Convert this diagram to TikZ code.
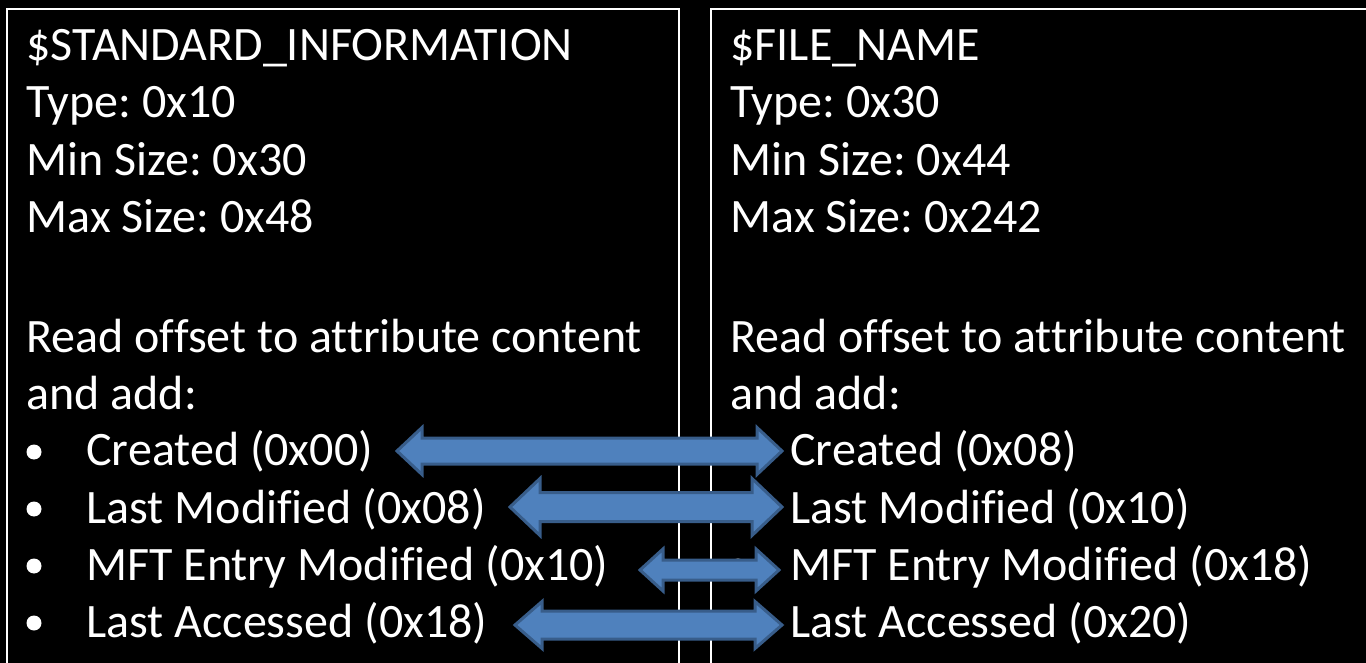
\documentclass[tikz,border=0pt]{standalone}
\usepackage{fontspec}
\setmainfont{Carlito}[Ligatures=NoCommon]
\frenchspacing
\usetikzlibrary{calc}
\definecolor{arrowfill}{HTML}{4F81BD}
\definecolor{arrowline}{HTML}{385D8A}
% double block arrow between two tips: shaft half, head half, head length
\newcommand{\dblarrow}[5]{%
	\draw[blockarrow] let \p1=(#1), \p2=(#2) in
		(\x1,\y1) -- (\x1+#5*0.5pt,\y1+#4*0.5pt) -- (\x1+#5*0.5pt,\y1+#3*0.5pt)
		-- (\x2-#5*0.5pt,\y1+#3*0.5pt) -- (\x2-#5*0.5pt,\y1+#4*0.5pt) -- (\x2,\y1)
		-- (\x2-#5*0.5pt,\y1-#4*0.5pt) -- (\x2-#5*0.5pt,\y1-#3*0.5pt)
		-- (\x1+#5*0.5pt,\y1-#3*0.5pt) -- (\x1+#5*0.5pt,\y1-#4*0.5pt) -- cycle;}

\begin{document}
\begin{tikzpicture}[x=0.5pt, y=-0.5pt]
		
		\tikzstyle{every node}=[font=\fontsize{24}{28}\selectfont, text=white, inner sep=0pt, anchor=base west]
		\tikzstyle{attrbox}=[draw=white, line width=1pt]
		\tikzstyle{dot}=[circle, fill=white, minimum size=7.5pt, anchor=center]
		\tikzstyle{blockarrow}=[fill=arrowfill, draw=arrowline, line width=1.5pt, line join=miter]
		
		\useasboundingbox (0,0) rectangle (1366,663);
		\fill[black] (0,0) rectangle (1366,663);
		\clip (0,0) rectangle (1366,663);
		
		% the two attribute boxes, cut off at the bottom
		\draw[attrbox] (7,9) rectangle (679,690);
		\draw[attrbox] (711,9) rectangle (1390,690);
		
		% $STANDARD_INFORMATION
		\node (siName) at (26,61) {\$STANDARD\_INFORMATION};
		\node (siType) at (26,118) {Type: 0x10};
		\node (siMin) at (26,176) {Min Size: 0x30};
		\node (siMax) at (26,233) {Max Size: 0x48};
		\node (siRead) at (26,352) {Read offset to attribute content};
		\node (siAdd) at (26,409) {and add:};
		\node[dot] (siB1) at (34,452) {};
		\node[dot] (siB2) at (34,509) {};
		\node[dot] (siB3) at (34,566) {};
		\node[dot] (siB4) at (34,623) {};
		\node (siCreated) at (86,466) {Created (0x00)};
		\node (siModified) at (86,523) {Last Modified (0x08)};
		\node (siEntry) at (86,580) {MFT Entry Modified (0x10)};
		\node (siAccessed) at (86,637) {Last Accessed (0x18)};
		
		% $FILE_NAME
		\node (fnName) at (730,61) {\$FILE\_NAME};
		\node (fnType) at (730,118) {Type: 0x30};
		\node (fnMin) at (730,176) {Min Size: 0x44};
		\node (fnMax) at (730,233) {Max Size: 0x242};
		\node (fnRead) at (730,352) {Read offset to attribute content};
		\node (fnAdd) at (730,409) {and add:};
		\node[dot] (fnB1) at (738,452) {};
		\node[dot] (fnB2) at (738,509) {};
		\node[dot] (fnB3) at (738,566) {};
		\node[dot] (fnB4) at (738,623) {};
		\node (fnCreated) at (790,466) {Created (0x08)};
		\node (fnModified) at (790,523) {Last Modified (0x10)};
		\node (fnEntry) at (790,580) {MFT Entry Modified (0x18)};
		\node (fnAccessed) at (790,637) {Last Accessed (0x20)};
		
		% matching time stamps
		\coordinate (a1) at (397,451);  \coordinate (b1) at (782,451);
		\coordinate (a2) at (510,507);  \coordinate (b2) at (782,507);
		\coordinate (a3) at (640,570);  \coordinate (b3) at (779,570);
		\coordinate (a4) at (515,625);  \coordinate (b4) at (782,625);
		\dblarrow{a1}{b1}{13}{23.5}{25}
		\dblarrow{a2}{b2}{14.5}{28.5}{30}
		\dblarrow{a3}{b3}{10}{21}{23}
		\dblarrow{a4}{b4}{14}{23.5}{27}
		
\end{tikzpicture}
\end{document}
